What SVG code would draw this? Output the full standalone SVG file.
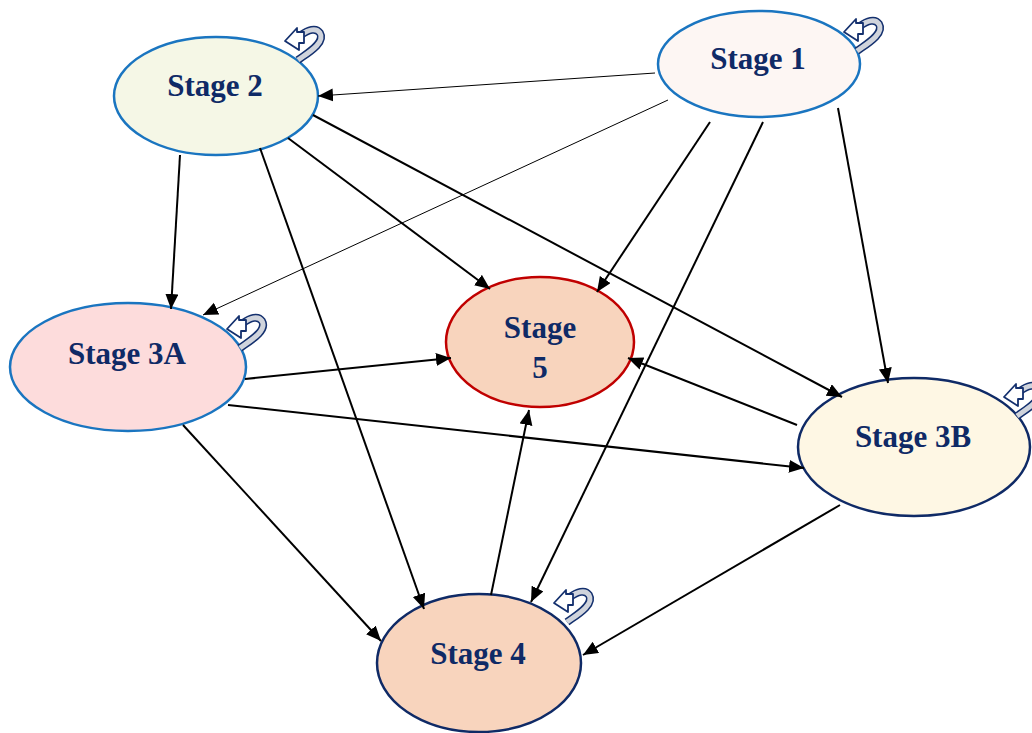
<svg xmlns="http://www.w3.org/2000/svg" width="1032" height="733" viewBox="0 0 1032 733">
<style>
.lbl{font-family:"Liberation Serif","Times New Roman",serif;font-weight:bold;font-size:31px;fill:#0f2a66;text-anchor:middle}
.e{stroke-width:2.5}
.thick{stroke:#000;stroke-width:2;fill:none;marker-end:url(#ah)}
.thin{stroke:#000;stroke-width:1;fill:none;marker-end:url(#ah)}
</style>
<defs>
<marker id="ah" markerUnits="userSpaceOnUse" markerWidth="16" markerHeight="14" refX="15" refY="6.5" orient="auto">
<path d="M0,0 L15,6.5 L0,13 z" fill="#000"/>
</marker>
<g id="loop">
<path d="M0,0 C8,-6 28,-17 22,-27 C18,-33 10,-30 3,-25" fill="none" stroke="#14306e" stroke-width="8"/>
<path d="M0,0 C8,-6 28,-17 22,-27 C18,-33 10,-30 3,-25" fill="none" stroke="#d0d4dc" stroke-width="5"/>
<path d="M-13,-19 L-1,-32 L-1,-28 L6,-28 L6,-17 L1,-17 L1,-10 z" fill="#fff" stroke="#14306e" stroke-width="1.8" stroke-linejoin="round"/>
</g>
</defs>
<rect width="1032" height="733" fill="#fff"/>
<g id="stage1">
<ellipse class="e" cx="759" cy="64" rx="101" ry="53" fill="#fdf6f3" stroke="#1a75c0"/>
<use href="#loop" x="857" y="51"/>
<text class="lbl" x="758" y="69">Stage 1</text>
</g>
<g id="stage2">
<ellipse class="e" cx="216" cy="96" rx="102" ry="59" fill="#f5f7e6" stroke="#1a75c0"/>
<use href="#loop" x="298" y="60"/>
<text class="lbl" x="215" y="96">Stage 2</text>
</g>
<g id="stage3a">
<ellipse class="e" cx="128" cy="367" rx="118" ry="64" fill="#fddcdc" stroke="#1a75c0"/>
<use href="#loop" x="240" y="348"/>
<text class="lbl" x="127" y="364">Stage 3A</text>
</g>
<g id="stage5">
<ellipse class="e" cx="540" cy="342" rx="94" ry="65" fill="#f8d4bd" stroke="#c00000"/>
<text class="lbl" x="540" y="338">Stage</text>
<text class="lbl" x="540" y="378">5</text>
</g>
<g id="stage3b">
<ellipse class="e" cx="914" cy="447" rx="116" ry="69" fill="#fef7e4" stroke="#0f2a66"/>
<use href="#loop" x="1017" y="416"/>
<text class="lbl" x="913" y="447">Stage 3B</text>
</g>
<g id="stage4">
<ellipse class="e" cx="479" cy="663" rx="102" ry="69" fill="#f8d4bd" stroke="#0f2a66"/>
<use href="#loop" x="567" y="622"/>
<text class="lbl" x="478" y="664">Stage 4</text>
</g>
<g id="connectors">
<line class="thin" x1="655" y1="73" x2="318" y2="96"/>
<line class="thin" x1="668" y1="100" x2="203" y2="315"/>
<line class="thick" x1="710" y1="122" x2="597" y2="292"/>
<line class="thick" x1="763" y1="122" x2="531" y2="602"/>
<line class="thick" x1="838" y1="108" x2="888" y2="383"/>
<line class="thick" x1="180" y1="155" x2="171" y2="309"/>
<line class="thick" x1="288" y1="138" x2="490" y2="289"/>
<line class="thick" x1="313" y1="115" x2="842" y2="397"/>
<line class="thick" x1="260" y1="148" x2="424" y2="609"/>
<line class="thick" x1="245" y1="379" x2="451" y2="358"/>
<line class="thick" x1="228" y1="405" x2="804" y2="468"/>
<line class="thick" x1="183" y1="425" x2="381" y2="641"/>
<line class="thick" x1="797" y1="425" x2="628" y2="358"/>
<line class="thick" x1="840" y1="505" x2="583" y2="655"/>
<line class="thick" x1="491" y1="595" x2="529" y2="410"/>
</g>
</svg>
